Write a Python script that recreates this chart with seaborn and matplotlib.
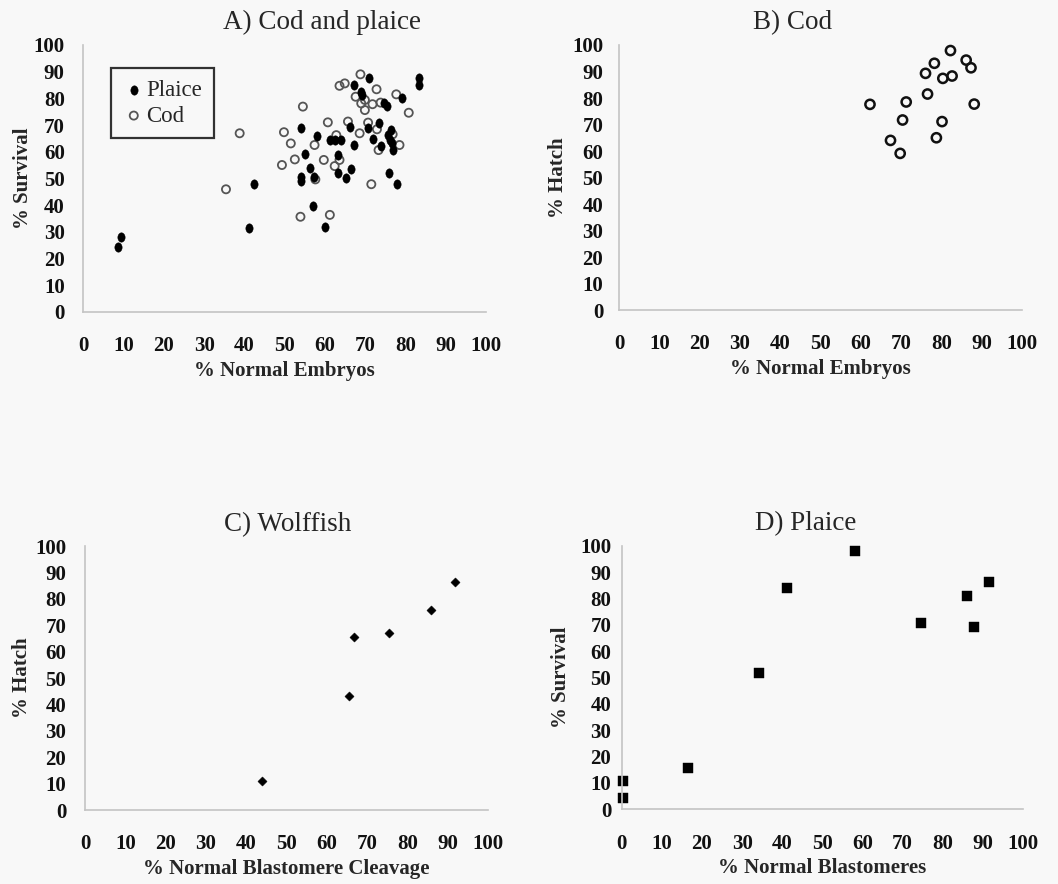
import numpy as np
import pandas as pd
import matplotlib
matplotlib.use("Agg")
import matplotlib.pyplot as plt
import seaborn as sns

# A) Cod and plaice: % normal embryos vs % survival
plaice_a_x = [8.6, 9.2, 41.1, 42.3, 54.0, 54.1, 54.1, 55.1, 56.2, 57.3, 56.9, 57.9, 59.9, 61.2,
              62.4, 64.0, 63.2, 63.2, 65.3, 66.5, 66.1, 67.2, 67.2, 69.0, 69.3, 70.7, 70.9, 71.9,
              73.3, 74.0, 74.6, 75.5, 75.6, 76.1, 76.5, 76.7, 77.0, 75.9, 78.0, 79.2, 83.3, 83.3]
plaice_a_y = [24.1, 28.1, 31.3, 47.9, 68.8, 50.4, 49.1, 59.0, 53.8, 50.4, 39.7, 65.9, 31.6, 64.4,
              64.4, 64.4, 58.8, 51.9, 50.0, 53.4, 69.4, 62.5, 85.0, 82.5, 81.3, 68.8, 87.5, 64.6,
              70.6, 62.1, 78.4, 77.1, 66.2, 64.4, 68.1, 63.1, 60.6, 52.1, 47.8, 80.3, 87.5, 85.0]
cod_a_x = [35.4, 38.8, 49.3, 49.8, 51.5, 52.5, 53.9, 54.5, 57.4, 57.6, 59.7, 60.7, 61.2, 62.4,
           62.8, 63.6, 63.6, 64.9, 65.7, 67.6, 68.6, 68.8, 69.0, 69.9, 69.9, 70.7, 71.5, 71.8,
           72.8, 72.9, 73.3, 73.8, 76.8, 77.7, 78.5, 80.8]
cod_a_y = [45.9, 66.9, 55.0, 67.3, 63.1, 57.1, 35.6, 76.9, 62.5, 49.6, 56.9, 71.0, 36.3, 54.6,
           66.2, 56.9, 84.7, 85.6, 71.3, 80.6, 66.9, 89.0, 78.1, 79.4, 75.6, 70.9, 47.8, 77.8,
           83.4, 68.4, 60.6, 78.4, 66.5, 81.5, 62.5, 74.6]

# B) Cod: % normal embryos vs % hatch
cod_b_x = [62.3, 67.4, 69.8, 70.4, 71.3, 76.1, 76.6, 78.3, 78.8, 80.2, 80.4, 82.3, 82.7, 86.2, 87.4, 88.2]
cod_b_y = [77.6, 64.0, 59.1, 71.7, 78.5, 89.3, 81.5, 93.1, 65.0, 71.1, 87.4, 97.9, 88.3, 94.3, 91.4, 77.7]

# C) Wolffish: % normal blastomere cleavage vs % hatch
wolf_x = [43.9, 65.4, 66.7, 75.4, 85.8, 91.9]
wolf_y = [11.1, 43.3, 65.4, 66.9, 75.8, 86.2]

# D) Plaice: % normal blastomeres vs % survival
plaice_d_x = [0.4, 0.4, 16.6, 34.3, 41.3, 58.1, 74.7, 86.1, 87.8, 91.5]
plaice_d_y = [10.9, 4.4, 15.6, 51.6, 83.9, 98.1, 70.9, 81.1, 69.4, 86.2]

ticks = list(range(0, 101, 10))

sns.set_style("white")
plt.rcParams["font.family"] = ["Liberation Serif", "DejaVu Serif"]

fig = plt.figure(figsize=(10.58, 8.84), dpi=100, facecolor="#f8f8f8")

# vertical ellipse marker for the plaice points
t = np.linspace(0, 2 * np.pi, 40)
ellipse = np.column_stack([0.78 * np.cos(t), np.sin(t)])

panels = [
    # rect, title, title x, xlabel, ylabel, y tick pad
    ([0.0789, 0.6474, 0.3805, 0.3017], "A) Cod and plaice", 0.593, "% Normal Embryos", "% Survival", 11),
    ([0.5853, 0.6493, 0.3804, 0.2998], "B) Cod", 0.43, "% Normal Embryos", "% Hatch", 9),
    ([0.0803, 0.0837, 0.3809, 0.2986], "C) Wolffish", 0.504, "% Normal Blastomere Cleavage", "% Hatch", 11),
    ([0.5876, 0.0845, 0.3793, 0.2979], "D) Plaice", 0.459, "% Normal Blastomeres", "% Survival", 5),
]

axes = []
for rect, title, tx, xl, yl, ypad in panels:
    ax = fig.add_axes(rect)
    ax.set_facecolor("#f8f8f8")
    ax.set_xlim(0, 100)
    ax.set_ylim(0, 100)
    ax.set_xticks(ticks)
    ax.set_yticks(ticks)
    for s in ["top", "right"]:
        ax.spines[s].set_visible(False)
    for s in ["left", "bottom"]:
        ax.spines[s].set_color("#c4c4c4")
        ax.spines[s].set_linewidth(1.2)
    ax.tick_params(axis="both", direction="inout", length=5, width=1, color="#b0b0b0",
                   labelsize=15, labelcolor="#111111")
    ax.tick_params(axis="x", pad=15)
    ax.tick_params(axis="y", pad=ypad)
    for lab in ax.get_xticklabels() + ax.get_yticklabels():
        lab.set_fontweight("bold")
    ax.text(tx, 1.083, title, transform=ax.transAxes, ha="center", va="center", fontsize=19.5)
    axes.append(ax)

axA, axB, axC, axD = axes

dfA_p = pd.DataFrame({"x": plaice_a_x, "y": plaice_a_y})
dfA_c = pd.DataFrame({"x": cod_a_x, "y": cod_a_y})
sns.scatterplot(data=dfA_c, x="x", y="y", ax=axA, marker="o", s=34, color="#555555",
                facecolor="none", edgecolor="#555555", linewidth=1.3, label="Cod", clip_on=False)
sns.scatterplot(data=dfA_p, x="x", y="y", ax=axA, marker=ellipse, s=46, color="black",
                edgecolor="black", linewidth=0.3, label="Plaice", clip_on=False)
handles, labels = axA.get_legend_handles_labels()
order = [labels.index("Plaice"), labels.index("Cod")]
leg = axA.legend([handles[i] for i in order], [labels[i] for i in order],
                 loc="upper left", bbox_to_anchor=(0.068, 0.912), frameon=True, fancybox=False,
                 fontsize=16.5, handletextpad=0.05, handlelength=1.0, borderpad=0.5,
                 labelspacing=0.2, borderaxespad=0)
leg.get_frame().set_edgecolor("black")
leg.get_frame().set_linewidth(1.6)
leg.get_frame().set_facecolor("#f8f8f8")

dfB = pd.DataFrame({"x": cod_b_x, "y": cod_b_y})
sns.scatterplot(data=dfB, x="x", y="y", ax=axB, marker="o", s=44, color="#111111",
                facecolor="none", edgecolor="#111111", linewidth=1.8, clip_on=False)

dfC = pd.DataFrame({"x": wolf_x, "y": wolf_y})
sns.scatterplot(data=dfC, x="x", y="y", ax=axC, marker="D", s=22, color="black",
                edgecolor="black", linewidth=0.3, clip_on=False)

dfD = pd.DataFrame({"x": plaice_d_x, "y": plaice_d_y})
sns.scatterplot(data=dfD, x="x", y="y", ax=axD, marker="s", s=44, color="black",
                edgecolor="black", linewidth=0.3, clip_on=False)

# axis labels after seaborn (it overwrites them with the column names)
label_x = {0: -0.15, 1: -0.152, 2: -0.155, 3: -0.152}
for i, (ax, p) in enumerate(zip(axes, panels)):
    ax.set_xlabel(p[3], fontsize=15, fontweight="bold", va="center")
    ax.set_ylabel(p[4], fontsize=15, fontweight="bold", va="center")
    ax.xaxis.set_label_coords(0.5, -0.222)
    ax.yaxis.set_label_coords(label_x[i], 0.5)

fig.savefig("out.png", dpi=100, facecolor=fig.get_facecolor())
